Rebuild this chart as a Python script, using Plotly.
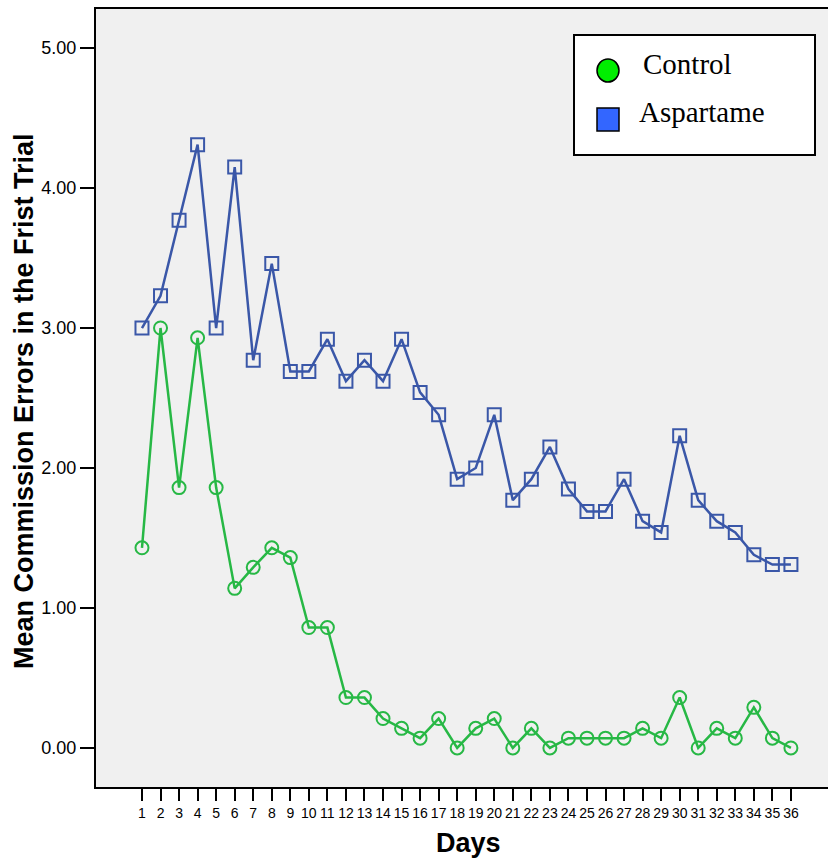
import plotly.graph_objects as go

days = list(range(1, 37))
control = [1.43, 3.00, 1.86, 2.93, 1.86, 1.14, 1.29, 1.43, 1.36, 0.86, 0.86, 0.36,
           0.36, 0.21, 0.14, 0.07, 0.21, 0.00, 0.14, 0.21, 0.00, 0.14, 0.00, 0.07,
           0.07, 0.07, 0.07, 0.14, 0.07, 0.36, 0.00, 0.14, 0.07, 0.29, 0.07, 0.00]
aspartame = [3.00, 3.23, 3.77, 4.31, 3.00, 4.15, 2.77, 3.46, 2.69, 2.69, 2.92, 2.62,
             2.77, 2.62, 2.92, 2.54, 2.38, 1.92, 2.00, 2.38, 1.77, 1.92, 2.15, 1.85,
             1.69, 1.69, 1.92, 1.62, 1.54, 2.23, 1.77, 1.62, 1.54, 1.38, 1.31, 1.31]
y_ticks = [0, 1, 2, 3, 4, 5]
series_names = ["Control", "Aspartame"]
x_title = "Days"
y_title = "Mean Commission Errors in the Frist Trial"

GREEN = "#27B845"
BLUE = "#3A57A8"

fig = go.Figure()
fig.add_trace(go.Scatter(x=days, y=control, mode="lines+markers", name=series_names[0],
                         line=dict(color=GREEN, width=2.5),
                         marker=dict(symbol="circle-open", size=13, color=GREEN,
                                     line=dict(width=2, color=GREEN)),
                         showlegend=False))
fig.add_trace(go.Scatter(x=days, y=aspartame, mode="lines+markers", name=series_names[1],
                         line=dict(color=BLUE, width=2.5),
                         marker=dict(symbol="square-open", size=13, color=BLUE,
                                     line=dict(width=2, color=BLUE)),
                         showlegend=False))

W, H = 828, 859
L, R, T, B = 96, 0, 9, 72
pw, ph = W - L - R, H - T - B

def px(x):
    return (x - L) / pw

def py(y):
    return 1 - (y - T) / ph

shapes = [
    # legend box
    dict(type="rect", xref="paper", yref="paper", x0=px(574), x1=px(815), y0=py(155), y1=py(35),
         fillcolor="white", line=dict(color="black", width=2), layer="above"),
    dict(type="circle", xref="paper", yref="paper", x0=px(597), x1=px(619), y0=py(82), y1=py(59),
         fillcolor="#00EE00", line=dict(color="black", width=1.5), layer="above"),
    dict(type="rect", xref="paper", yref="paper", x0=px(597), x1=px(619), y0=py(131), y1=py(108),
         fillcolor="#3366FF", line=dict(color="black", width=1.5), layer="above"),
]
annotations = [
    dict(text=series_names[0], xref="paper", yref="paper", x=px(641), y=py(64), xanchor="left",
         yanchor="middle", showarrow=False, font=dict(family="Liberation Serif", size=29, color="black")),
    dict(text=series_names[1], xref="paper", yref="paper", x=px(637), y=py(112), xanchor="left",
         yanchor="middle", showarrow=False, font=dict(family="Liberation Serif", size=29, color="black")),
    dict(text=f"<b>{x_title}</b>", xref="paper", yref="paper", x=px(468), y=py(843),
         xanchor="center", yanchor="middle", showarrow=False, font=dict(size=27, color="black")),
    dict(text=f"<b>{y_title}</b>", xref="paper", yref="paper", x=px(24), y=py(401),
         xanchor="center", yanchor="middle", textangle=-90, showarrow=False,
         font=dict(size=27, color="black")),
]

fig.update_layout(
    width=W, height=H,
    margin=dict(l=L, r=R, t=T, b=B, pad=0),
    paper_bgcolor="white", plot_bgcolor="#F0F0F0",
    font=dict(family="Liberation Sans, Arial", color="black"),
    shapes=shapes, annotations=annotations,
    xaxis=dict(range=[-1.48, 38.0], tickmode="array", tickvals=days, ticktext=[str(d) for d in days],
               ticks="outside", ticklen=12, tickwidth=2, tickcolor="black",
               showline=True, linecolor="black", linewidth=2, mirror=True,
               showgrid=False, zeroline=False, tickfont=dict(size=14)),
    yaxis=dict(range=[-0.279, 5.279], tickmode="array", tickvals=y_ticks,
               ticktext=[f"{v:.2f}" for v in y_ticks],
               ticks="outside", ticklen=14, tickwidth=2, tickcolor="black",
               showline=True, linecolor="black", linewidth=2, mirror=False,
               showgrid=False, zeroline=False, tickfont=dict(size=18)),
)

fig.write_html("out.html")
